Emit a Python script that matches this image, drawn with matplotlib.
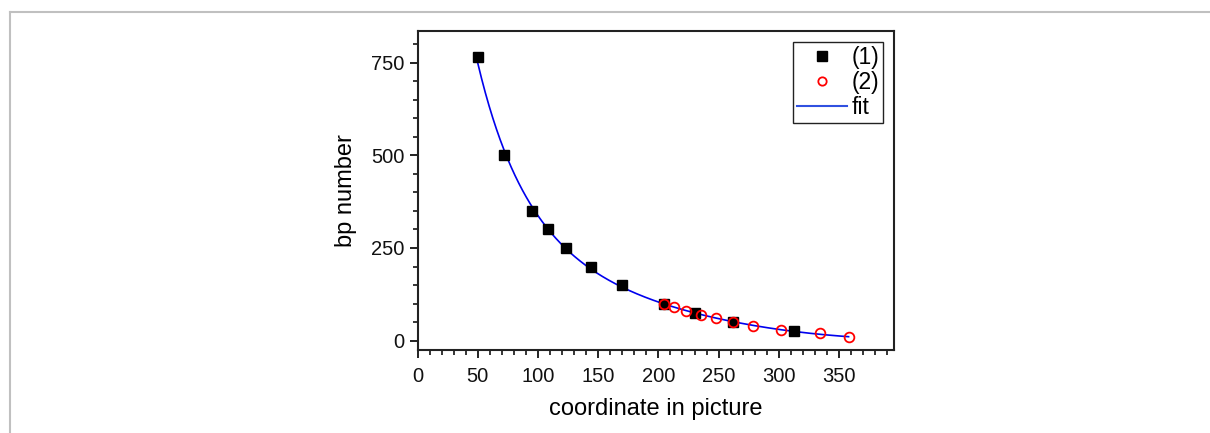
import numpy as np
import matplotlib.pyplot as plt
from matplotlib.ticker import MultipleLocator
from matplotlib.lines import Line2D

plt.rcParams['font.family'] = ['Liberation Sans', 'DejaVu Sans']

# series (1): black squares
x1 = [50, 72, 95, 108, 123, 144, 170, 205, 230, 262, 313]
y1 = [764, 500, 350, 300, 250, 200, 150, 100, 75, 50, 25]

# series (2): red open circles
x2 = [205, 213, 223, 235, 248, 262, 279, 302, 334, 358]
y2 = [100, 90, 80, 70, 60, 50, 40, 30, 20, 10]

# fit through both series (cubic in log space)
xa = np.array(x1 + x2, dtype=float)
ya = np.array(y1 + y2, dtype=float)
coef = np.polyfit(xa, np.log(ya), 3)
xf = np.linspace(min(xa), max(xa), 400)
yf = np.exp(np.polyval(coef, xf))

fig = plt.figure(figsize=(12.1, 4.33), dpi=100)
ax = fig.add_axes([0.3452, 0.1917, 0.7391 - 0.3452, 0.9284 - 0.1917])

ax.plot(xf, yf, color='#0000ee', lw=1.2, zorder=2)
ax.plot(x1, y1, 's', color='black', ms=7, zorder=3)
ax.plot(x2, y2, 'o', mfc='none', mec='red', mew=1.3, ms=7, zorder=4)

ax.set_xlim(0, 396)
ax.set_ylim(-25, 835)
ax.xaxis.set_major_locator(MultipleLocator(50))
ax.xaxis.set_minor_locator(MultipleLocator(10))
ax.yaxis.set_major_locator(MultipleLocator(250))
ax.yaxis.set_minor_locator(MultipleLocator(50))
ax.tick_params(which='major', direction='out', length=6, width=1.3, labelsize=14.5, colors='#111111')
ax.tick_params(axis='x', which='major', pad=6)
ax.tick_params(which='minor', direction='out', length=3.5, width=1.1)
ax.tick_params(top=False, right=False)
for s in ax.spines.values():
    s.set_linewidth(1.5)
    s.set_color('#222222')

ax.set_xlabel('coordinate in picture', fontsize=17, labelpad=9)
ax.set_ylabel('bp number', fontsize=17, labelpad=10)

handles = [
    Line2D([], [], ls='none', marker='s', color='black', ms=7),
    Line2D([], [], ls='none', marker='o', mfc='none', mec='red', mew=1.3, ms=6),
    Line2D([], [], color='#3050e0', lw=1.5),
]
leg = ax.legend(handles, ['(1)', '(2)', 'fit'], loc='upper right', fontsize=16.5,
                frameon=True, fancybox=False, framealpha=1, edgecolor='#222222',
                handlelength=2.2, handletextpad=0.2, labelspacing=0.1,
                borderpad=0.15, borderaxespad=0.5, markerfirst=True)
leg.get_frame().set_linewidth(1.0)

# gray page frame
fig.add_artist(Line2D([10 / 1210, 1], [1 - 12 / 433, 1 - 12 / 433],
                      transform=fig.transFigure, color='#c0c0c0', lw=1.5))
fig.add_artist(Line2D([10 / 1210, 10 / 1210], [0, 1 - 12 / 433],
                      transform=fig.transFigure, color='#c0c0c0', lw=1.5))

fig.savefig('out.png', dpi=100)
